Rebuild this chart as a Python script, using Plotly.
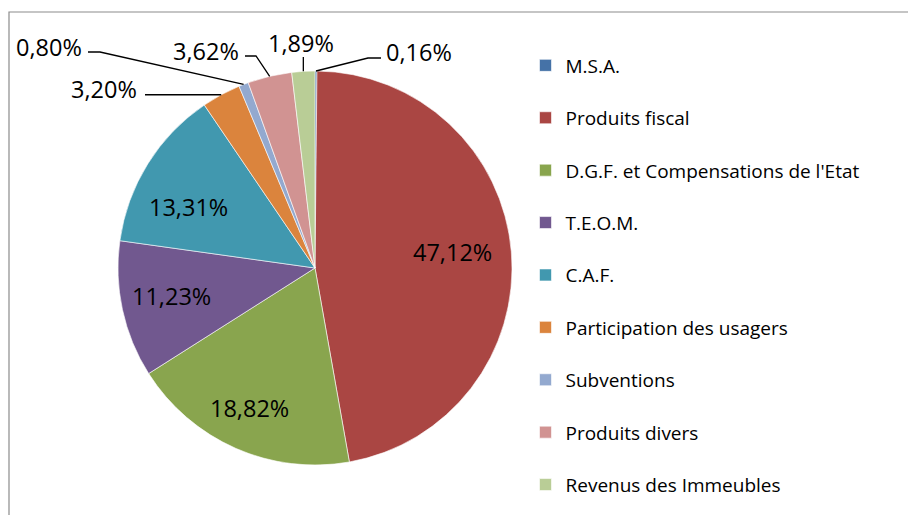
import math
import plotly.graph_objects as go

# ---- data ----
labels = ["M.S.A.", "Produits fiscal", "D.G.F. et Compensations de l'Etat", "T.E.O.M.",
          "C.A.F.", "Participation des usagers", "Subventions", "Produits divers",
          "Revenus des Immeubles"]
values = [0.16, 47.12, 18.82, 11.23, 13.31, 3.20, 0.80, 3.62, 1.89]
colors = ["#4572A7", "#AA4643", "#89A54E", "#71588F", "#4198AF",
          "#DB843D", "#93A9CF", "#D19392", "#B9CD96"]

# ---- layout constants (page pixels) ----
W, H = 916, 515
OFF = 8                      # default page body margin
FW, FH = W - OFF, H - OFF    # figure size
CX, CY, R = 315, 268, 197
FONT = "'Open Sans', sans-serif"

def fx(x):
    return (x - OFF) / FW

def fy(y):
    return 1 - (y - OFF) / FH

def pct(v):
    return ("%.2f" % v).replace(".", ",") + "%"

total = sum(values)
mids = []
acc = 0.0
for v in values:
    mids.append((acc + v / 2) / total * 360.0)
    acc += v

def polar(i, frac=1.0, dang=0.0):
    a = math.radians(mids[i] + dang)
    return CX + frac * R * math.sin(a), CY - frac * R * math.cos(a)

# legend names: a blank second line spaces the entries out
legend_names = [l + "<br> " for l in labels[:-1]] + [labels[-1]]

fig = go.Figure(go.Pie(
    labels=legend_names,
    values=values,
    sort=False,
    direction="clockwise",
    rotation=0,
    marker=dict(colors=colors, line=dict(color="white", width=0.6)),
    textinfo="none",
    hoverinfo="label+percent",
    domain=dict(x=[fx(CX - R), fx(CX + R)], y=[fy(CY + R), fy(CY - R)]),
))

annotations = []
shapes = []

# inside labels: (radius fraction, angular offset)
inside = {1: (0.705, -1.9), 2: (0.785, 1.4), 3: (0.74, 1.1), 4: (0.715, -6.2)}
for i, (fr, da) in inside.items():
    x, y = polar(i, fr, da)
    annotations.append(dict(x=fx(x), y=fy(y), xref="paper", yref="paper",
                            text=pct(values[i]), showarrow=False,
                            xanchor="center", yanchor="middle",
                            font=dict(family=FONT, size=23.5, color="black")))

# outside labels: leader path points after the slice edge, text anchor
outside = {
    0: ([(368, 58), (381, 58)], (384, 52), "left"),
    8: ([(None, 57)], (301, 43), "center"),
    7: ([(256, 56), (245, 56)], (241, 51), "right"),
    6: ([(100, 52), (88, 52)], (84, 47), "right"),
    5: ([(145, None)], (139, 89), "right"),
}
for i, (pts, (tx, ty), anc) in outside.items():
    ex, ey = polar(i, 1.0)
    path = "M %f %f" % (fx(ex), fy(ey))
    for (px_, py_) in pts:
        px_ = ex if px_ is None else px_
        py_ = ey if py_ is None else py_
        path += " L %f %f" % (fx(px_), fy(py_))
    shapes.append(dict(type="path", path=path, xref="paper", yref="paper",
                       line=dict(color="black", width=1.3)))
    annotations.append(dict(x=fx(tx), y=fy(ty), xref="paper", yref="paper",
                            text=pct(values[i]), showarrow=False,
                            xanchor=anc, yanchor="middle",
                            font=dict(family=FONT, size=23.5, color="black")))

# chart frame
shapes.append(dict(type="rect", xref="paper", yref="paper",
                   x0=fx(9), x1=fx(940), y0=fy(540), y1=fy(12),
                   line=dict(color="#8c8c8c", width=1.2), layer="below"))

fig.update_layout(
    width=FW, height=FH,
    margin=dict(l=0, r=0, t=0, b=0),
    paper_bgcolor="white", plot_bgcolor="white",
    showlegend=True,
    legend=dict(x=fx(525.5), y=fy(46.5), xanchor="left", yanchor="top",
                valign="top", font=dict(family=FONT, size=19, color="black"),
                bgcolor="rgba(0,0,0,0)"),
    annotations=annotations,
    shapes=shapes,
)

fig.write_html("out.html")
